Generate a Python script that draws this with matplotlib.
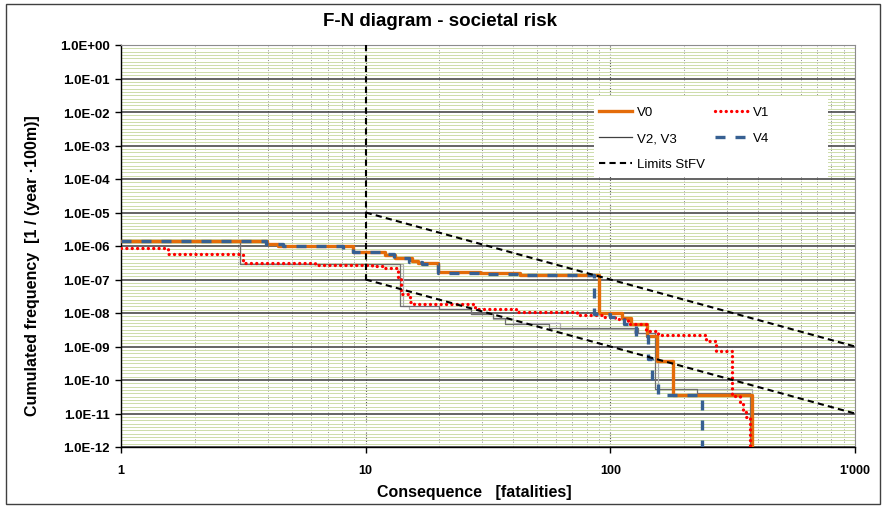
"""
F-N diagram (societal risk) for the variants V0..V4 with the StFV limit lines.

Cumulated frequency per year and 100 m against the number of fatalities,
both axes logarithmic, drawn as step curves.
"""

import matplotlib
matplotlib.use("Agg")
import matplotlib.pyplot as plt
from matplotlib.patches import Rectangle
from matplotlib.ticker import FixedLocator, NullFormatter
import numpy as np

plt.rcParams["font.family"] = ["Liberation Sans", "DejaVu Sans"]

# Step curves: frequency F holds from N[i] up to the next N; the curve ends at *_END
V0_N = [1, 3.95, 4.38, 8.87, 12.0, 13.2, 15.4, 16.3, 19.8, 29.3, 42.6, 89.5, 112, 122, 141, 155, 181]
V0_F = [1.44e-6, 1.17e-6, 9.8e-7, 6.5e-7, 5.5e-7, 4.5e-7, 3.5e-7, 3.05e-7, 1.64e-7, 1.53e-7, 1.36e-7,
        9.7e-9, 6.9e-9, 4.7e-9, 2.0e-9, 3.8e-10, 3.6e-11]
V0_END = 381

V1_N = [1, 1.56, 3.16, 6.2, 10.6, 12.0, 13.5, 14.0, 15.2, 15.7, 28, 41, 73, 93, 104, 118, 140, 157,
        247, 271, 313, 338, 350, 360]
V1_F = [8.5e-7, 5.9e-7, 3.05e-7, 2.75e-7, 2.6e-7, 2.25e-7, 1.1e-7, 3.6e-8, 2.1e-8, 1.85e-8, 1.3e-8,
        1.1e-8, 8.7e-9, 7.4e-9, 6.6e-9, 4.7e-9, 3.0e-9, 2.2e-9, 1.5e-9, 7.5e-10, 3.4e-11, 2.2e-11,
        1.1e-11, 7.9e-12]
V1_END = 374

V2_N = [1, 3.06, 14.2, 15.0, 27.0, 33.0, 40.0, 62.0, 125.0, 157.0]
V2_F = [1.4e-6, 2.9e-7, 1.6e-8, 1.3e-8, 9.3e-9, 6.6e-9, 5.0e-9, 3.4e-9, 2.6e-9, 5.3e-11]
V2_END = 380

V3_N = [1, 3.06, 13.8, 20.0, 27.0, 33.0, 37.0, 56.0, 130.0, 152.0, 225.0]
V3_F = [1.4e-6, 2.9e-7, 1.6e-8, 1.3e-8, 9.5e-9, 7.0e-9, 4.8e-9, 3.6e-9, 2.5e-9, 5.5e-11, 4.0e-11]
V3_END = 372

V4_N = [1, 3.9, 4.6, 8.08, 8.87, 11.5, 13.0, 15.0, 17.0, 19.8, 30, 45, 85.6, 100, 114, 127, 142, 148, 156]
V4_F = [1.44e-6, 1.17e-6, 9.8e-7, 8.0e-7, 6.5e-7, 5.6e-7, 4.5e-7, 3.3e-7, 3.0e-7, 1.6e-7, 1.5e-7,
        1.36e-7, 9.5e-9, 7.4e-9, 4.7e-9, 2.1e-9, 4.2e-10, 9.6e-11, 3.6e-11]
V4_END = 236

# StFV limits: vertical cut-off at N = 10 and the two slope -2 lines
LIMIT_VERT_N = [10, 10]
LIMIT_VERT_F = [1.0, 1e-7]
LIMIT_LINE_N = [10, 1000]
LIMIT_UPPER_F = [1e-5, 1e-9]
LIMIT_LOWER_F = [1e-7, 1e-11]

X_TICKS = [1, 10, 100, 1000]
X_TICK_LABELS = ["1", "10", "100", "1'000"]
Y_EXPONENTS = list(range(-12, 1))

F_FLOOR = 1e-13  # below the axis, so a curve's last step drops out of view

V0_STYLE = dict(color="#e46c0a", linewidth=2.4)
V1_STYLE = dict(color="#ff0000", linewidth=2.4, linestyle=(0, (0.01, 1.6)),
                dash_capstyle="round")
V4_STYLE = dict(color="#376092", linewidth=2.4, linestyle=(0, (3, 3)))
LIMIT_STYLE = dict(color="black", linewidth=1.5, linestyle=(0, (3, 2)))


def draw_steps(ax, n, f, n_end, **style):
    """Draws one F-N step curve that falls off the bottom of the axis at n_end."""
    ax.step(list(n) + [n_end], list(f) + [F_FLOOR], where="post", **style)


def setup_axes(ax):
    """Log axes, ticks and the Excel-like grid."""
    ax.set_xscale("log")
    ax.set_yscale("log")
    ax.set_xlim(1, 1000)
    ax.set_ylim(1e-12, 1)

    ax.set_xticks(X_TICKS)
    ax.set_xticklabels(X_TICK_LABELS, fontweight="bold", fontsize=9)
    ax.xaxis.set_minor_locator(FixedLocator(
        [m * 10.0 ** k for k in range(0, 3) for m in range(2, 10)]))
    ax.xaxis.set_minor_formatter(NullFormatter())

    y_major = [10.0 ** e for e in Y_EXPONENTS]
    ax.set_yticks(y_major)
    ax.set_yticklabels([f"{v:.1E}" for v in y_major], fontweight="bold", fontsize=9.5)
    # evenly spaced minor lines inside each decade
    ax.yaxis.set_minor_locator(FixedLocator(
        [10.0 ** (e + j / 10) for e in Y_EXPONENTS[:-1] for j in range(1, 10)]))
    ax.yaxis.set_minor_formatter(NullFormatter())

    ax.tick_params(which="major", direction="out", length=4, width=1, color="black")
    ax.tick_params(axis="y", which="major", pad=4)
    ax.tick_params(axis="x", which="major", pad=8)
    ax.tick_params(which="minor", length=0)

    ax.set_axisbelow(True)
    ax.grid(axis="y", which="minor", color="#cddcaa", linewidth=0.7, linestyle="-")
    ax.grid(axis="y", which="major", color="#3a3a3a", linewidth=1.1, linestyle="-")
    ax.grid(axis="x", which="minor", color="#8c8c8c", linewidth=0.7, linestyle=(0, (1, 1.5)))
    ax.grid(axis="x", which="major", color="#555555", linewidth=0.8, linestyle=(0, (1, 1.5)))

    for side in ("left", "bottom"):
        ax.spines[side].set_color("black")
        ax.spines[side].set_linewidth(1.0)
    for side in ("top", "right"):
        ax.spines[side].set_color("#8c8c8c")
        ax.spines[side].set_linewidth(0.8)


def add_legend(ax):
    """Two-column legend on a white box in the upper right of the plot."""
    to_ax = lambda px, py: ((px - 121) / 734, (448 - py) / 402)
    x0, y1 = to_ax(594, 97)
    x1, y0 = to_ax(828, 178)
    ax.add_patch(Rectangle((x0, y0), x1 - x0, y1 - y0, transform=ax.transAxes,
                           facecolor="white", edgecolor="none", zorder=9))

    # entries are filled column by column
    handles = [
        plt.Line2D([], [], **V0_STYLE),
        plt.Line2D([], [], color="#404040", linewidth=0.9),
        plt.Line2D([], [], **LIMIT_STYLE),
        plt.Line2D([], [], **V1_STYLE),
        plt.Line2D([], [], **V4_STYLE),
    ]
    labels = ["V0", "V2, V3", "Limits StFV", "V1", "V4"]
    leg = ax.legend(handles, labels, ncol=2, loc="upper left",
                    bbox_to_anchor=to_ax(599, 107), frameon=False,
                    fontsize=9.5, handlelength=2.5, handletextpad=0.4,
                    labelspacing=1.05, columnspacing=0.75,
                    borderpad=0, borderaxespad=0)
    leg.set_zorder(10)


def main():
    fig = plt.figure(figsize=(8.86, 5.10), dpi=100)
    ax = fig.add_axes([121 / 886, 62 / 510, 734 / 886, 402 / 510])
    setup_axes(ax)

    # V2 and V3 share one legend entry
    draw_steps(ax, V2_N, V2_F, V2_END, color="#b0b0b0", linewidth=0.9, zorder=2)
    draw_steps(ax, V3_N, V3_F, V3_END, color="#6e6e6e", linewidth=0.9, zorder=2)
    draw_steps(ax, V0_N, V0_F, V0_END, zorder=3, **V0_STYLE)
    draw_steps(ax, V1_N, V1_F, V1_END, zorder=4, **V1_STYLE)
    draw_steps(ax, V4_N, V4_F, V4_END, zorder=5, **V4_STYLE)

    ax.plot(LIMIT_VERT_N, LIMIT_VERT_F, zorder=6, **LIMIT_STYLE)
    ax.plot(LIMIT_LINE_N, LIMIT_UPPER_F, zorder=6, **LIMIT_STYLE)
    ax.plot(LIMIT_LINE_N, LIMIT_LOWER_F, zorder=6, **LIMIT_STYLE)

    add_legend(ax)

    ax.set_xlabel("Consequence   [fatalities]", fontweight="bold", fontsize=11.5)
    ax.xaxis.set_label_coords((474 - 121) / 734, (448 - 485) / 402)
    ax.set_ylabel("Cumulated frequency  [1 / (year \u00b7100m)]", fontweight="bold", fontsize=11.5)
    ax.yaxis.set_label_coords((40 - 121) / 734, 0.454)

    fig.text(440 / 886, 1 - 22 / 510, "F-N diagram - societal risk",
             ha="center", va="center", fontweight="bold", fontsize=13.5)

    # chart area frame
    fig.patches.append(Rectangle((6 / 886, 5 / 510), 874 / 886, 500 / 510,
                                 transform=fig.transFigure, fill=False,
                                 edgecolor="#404040", linewidth=1.0))

    fig.savefig("out.png", dpi=100)


if __name__ == "__main__":
    main()
